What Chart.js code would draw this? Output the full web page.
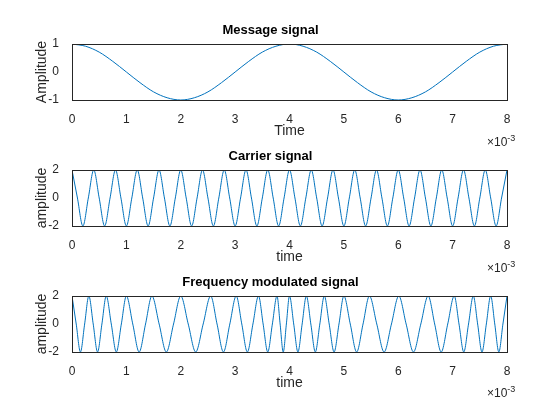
<!DOCTYPE html>
<html>
<head>
<script src="https://cdn.jsdelivr.net/npm/chart.js@4"></script>
<style>
body { margin: 0; background: #fff; font-family: 'Liberation Sans', Arial, sans-serif; }
.wrap { position: absolute; left: 0; width: 560px; height: 150px; }
.exp { position: absolute; font-size: 12px; color: #262626; }
.exp sup { font-size: 9px; }
</style>
</head>
<body>
<div class="wrap" style="top:0"><canvas id="c1" width="560" height="150"></canvas></div>
<div class="wrap" style="top:126px"><canvas id="c2" width="560" height="150"></canvas></div>
<div class="wrap" style="top:252px"><canvas id="c3" width="560" height="150"></canvas></div>
<div class="exp" style="left:487px;top:133px">&times;10<sup>-3</sup></div>
<div class="exp" style="left:487px;top:259px">&times;10<sup>-3</sup></div>
<div class="exp" style="left:487px;top:384px">&times;10<sup>-3</sup></div>
<script>
// time in ms (axis shows x10^-3 s)
const xTicks = [0, 1, 2, 3, 4, 5, 6, 7, 8];

// message: read every 0.25 ms
const msgTimes = [0, 0.25, 0.5, 0.75, 1, 1.25, 1.5, 1.75, 2, 2.25, 2.5, 2.75, 3, 3.25, 3.5, 3.75,
  4, 4.25, 4.5, 4.75, 5, 5.25, 5.5, 5.75, 6, 6.25, 6.5, 6.75, 7, 7.25, 7.5, 7.75, 8];
const msgValues = [1, 0.92, 0.71, 0.38, 0, -0.38, -0.71, -0.92, -1, -0.92, -0.71, -0.38, 0, 0.38, 0.71, 0.92,
  1, 0.92, 0.71, 0.38, 0, -0.38, -0.71, -0.92, -1, -0.92, -0.71, -0.38, 0, 0.38, 0.71, 0.92, 1];

// carrier peaks (value 2), troughs midway (value -2)
const carrierPeaks = [0, 0.4, 0.8, 1.2, 1.6, 2.0, 2.4, 2.8, 3.2, 3.6, 4.0, 4.4, 4.8, 5.2, 5.6, 6.0, 6.4, 6.8, 7.2, 7.6, 8.0];

// FM peaks
const fmPeaks = [0, 0.31, 0.63, 1.0, 1.47, 2.0, 2.55, 3.02, 3.43, 3.77, 4.0, 4.31, 4.64, 5.0, 5.47, 6.01, 6.55, 7.03, 7.38, 7.70, 8.0];

const peakPattern = [2, 0, -2, 0];

const fromPeaks = (peaks) => {
  const pts = [];
  for (let i = 0; i < peaks.length - 1; i++) {
    const a = peaks[i], b = peaks[i + 1];
    const q = (b - a) / 4;
    for (let k = 0; k < 4; k++) pts.push({ x: a + q * k, y: peakPattern[k] });
  }
  pts.push({ x: peaks[peaks.length - 1], y: 2 });
  return pts;
};

const boxPlugin = {
  id: 'box',
  afterDraw(chart) {
    const a = chart.chartArea, ctx = chart.ctx;
    ctx.save();
    ctx.strokeStyle = '#262626';
    ctx.lineWidth = 1;
    ctx.strokeRect(a.left + 0.5, a.top + 0.5, a.right - a.left, a.bottom - a.top);
    ctx.restore();
  }
};

const family = "'Liberation Sans', Arial, sans-serif";
const font = { family: family, size: 12 };

const makeChart = (id, title, ylabel, xlabel, data, ymin, ymax, step) => {
  new Chart(document.getElementById(id), {
    type: 'line',
    data: {
      datasets: [{
        data: data,
        borderColor: '#0072BD',
        borderWidth: 1,
        pointRadius: 0,
        cubicInterpolationMode: 'monotone',
      }],
    },
    options: {
      responsive: false,
      animation: false,
      layout: { padding: { top: 22.4, right: 53, bottom: 10, left: 34 } },
      plugins: {
        legend: { display: false },
        tooltip: { enabled: false },
        title: {
          display: true, text: title, color: '#000',
          font: { family: family, size: 13, weight: 'bold' },
          padding: { top: 0, bottom: 6 },
        },
      },
      scales: {
        x: {
          type: 'linear', min: 0, max: 8,
          afterBuildTicks: (s) => { s.ticks = xTicks.map((v) => ({ value: v })); },
          afterFit: (s) => { s.height = 40; },
          grid: { display: false },
          border: { display: false },
          ticks: { color: '#262626', font: font, padding: 4, maxRotation: 0 },
          title: { display: true, text: xlabel, color: '#262626', font: { family: family, size: 14 }, padding: 0 },
        },
        y: {
          min: ymin, max: ymax,
          ticks: { stepSize: step, color: '#262626', font: font, padding: 5 },
          afterFit: (s) => { s.width = 38; },
          grid: { display: false },
          border: { display: false },
          title: { display: true, text: ylabel, color: '#262626', font: { family: family, size: 14 }, padding: 0 },
        },
      },
    },
    plugins: [boxPlugin],
  });
};

const msgData = msgTimes.map((t, i) => ({ x: t, y: msgValues[i] }));

makeChart('c1', 'Message signal', 'Amplitude', 'Time', msgData, -1, 1, 1);
makeChart('c2', 'Carrier signal', 'amplitude', 'time', fromPeaks(carrierPeaks), -2, 2, 2);
makeChart('c3', 'Frequency modulated signal', 'amplitude', 'time', fromPeaks(fmPeaks), -2, 2, 2);
</script>
</body>
</html>
